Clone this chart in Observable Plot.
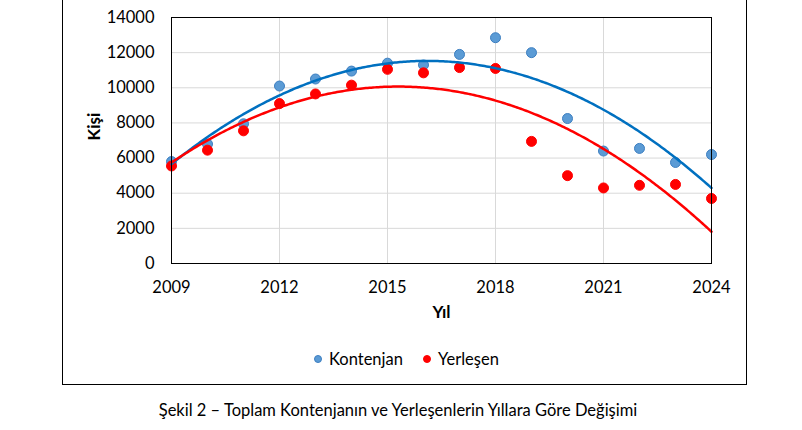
<!DOCTYPE html>
<html><head><meta charset="utf-8">
<script src="https://cdn.jsdelivr.net/npm/d3@7"></script>
<script src="https://cdn.jsdelivr.net/npm/@observablehq/plot@0.6"></script>
<style>
html,body{margin:0;padding:0;background:#fff;}
body{width:802px;height:430px;position:relative;overflow:hidden;font-family:Lato,"Open Sans",sans-serif;color:#000;}
#box{position:absolute;left:62px;top:-20px;width:685px;height:405px;border:1px solid #000;box-sizing:border-box;}
#chart{position:absolute;left:0;top:0;}
#legend{position:absolute;left:0;top:349px;width:802px;height:20px;font-size:16.5px;}
.item{position:absolute;top:0;height:20px;line-height:20px;white-space:nowrap;}
.sw{position:absolute;left:0;top:6px;width:8px;height:8px;border-radius:50%;box-sizing:border-box;}
.lbl{position:absolute;left:15px;top:0;}
#caption{position:absolute;left:0;top:400px;width:796px;text-align:center;font-size:16.5px;line-height:20px;}
</style>
</head>
<body>
<div id="box"></div>
<div id="chart"></div>
<div id="legend"></div>
<div id="caption"></div>
<script>
// ---- data ----
const years = [2009, 2010, 2011, 2012, 2013, 2014, 2015, 2016, 2017, 2018, 2019, 2020, 2021, 2022, 2023, 2024];
const kontenjan = [5800, 6800, 7950, 10100, 10500, 10950, 11400, 11300, 11900, 12850, 12000, 8250, 6400, 6550, 5750, 6200];
const yerlesen = [5550, 6450, 7550, 9100, 9650, 10150, 11050, 10850, 11150, 11100, 6950, 5000, 4300, 4450, 4500, 3700];
const seriesNames = ["Kontenjan", "Yerleşen"];
const xTicks = [2009, 2012, 2015, 2018, 2021, 2024];
const yTicks = [0, 2000, 4000, 6000, 8000, 10000, 12000, 14000];
const xTitle = "Yıl";
const yTitle = "Kişi";
const captionText = "Şekil 2 – Toplam Kontenjanın ve Yerleşenlerin Yıllara Göre Değişimi";

// ---- styles ----
const colors = {Kontenjan: {fill: "#5b9bd5", stroke: "#3d7fc1", line: "#0070c0"},
                Yerleşen: {fill: "#ff0000", stroke: "#ff0000", line: "#ff0000"}};

// quadratic least-squares fit (Excel polynomial trendline, order 2)
function quadFit(xs, ys) {
  const x0 = d3.mean(xs);
  const S = [[0,0,0],[0,0,0],[0,0,0]], T = [0,0,0];
  xs.forEach((x, i) => {
    const t = x - x0, p = [1, t, t*t];
    for (let j = 0; j < 3; j++) { T[j] += p[j]*ys[i]; for (let k = 0; k < 3; k++) S[j][k] += p[j]*p[k]; }
  });
  const A = S.map((r, i) => [...r, T[i]]);
  for (let c = 0; c < 3; c++) {
    for (let r = c + 1; r < 3; r++) {
      const f = A[r][c] / A[c][c];
      for (let k = c; k < 4; k++) A[r][k] -= f*A[c][k];
    }
  }
  const b = [0,0,0];
  for (let r = 2; r >= 0; r--) {
    let s = A[r][3];
    for (let k = r + 1; k < 3; k++) s -= A[r][k]*b[k];
    b[r] = s / A[r][r];
  }
  return x => { const t = x - x0; return b[0] + b[1]*t + b[2]*t*t; };
}

const valuesBy = {Kontenjan: kontenjan, Yerleşen: yerlesen};
const points = seriesNames.flatMap(s => years.map((y, i) => ({series: s, year: y, value: valuesBy[s][i]})));
const xs = d3.range(years[0], years[years.length-1] + 1e-9, 0.05);
const fits = seriesNames.flatMap(s => {
  const f = quadFit(years, valuesBy[s]);
  return xs.map(x => ({series: s, year: x, value: f(x)}));
});

const chart = Plot.plot({
  width: 802, height: 340,
  marginLeft: 171, marginRight: 91, marginTop: 17, marginBottom: 77,
  style: {fontFamily: "Lato, 'Open Sans', sans-serif", fontSize: "16.5px", color: "#000", background: "transparent", overflow: "visible"},
  x: {domain: [years[0], years[years.length-1]]},
  y: {domain: [yTicks[0], yTicks[yTicks.length-1]]},
  marks: [
    Plot.gridY(yTicks, {stroke: "#d9d9d9", strokeOpacity: 1, strokeWidth: 1}),
    Plot.gridX(xTicks, {stroke: "#d9d9d9", strokeOpacity: 1, strokeWidth: 1}),
    Plot.axisX(xTicks, {tickSize: 0, tickPadding: 18, tickFormat: d => String(d), label: null, fontSize: 16.5}),
    Plot.axisY(yTicks, {tickSize: 0, tickPadding: 17, tickFormat: d => String(d), label: null, fontSize: 16.5}),
    ...seriesNames.map(s => Plot.dot(points.filter(d => d.series === s), {
      x: "year", y: "value", r: 5, fill: colors[s].fill, stroke: colors[s].stroke, strokeWidth: 1
    })),
    ...seriesNames.map(s => Plot.line(fits.filter(d => d.series === s), {
      x: "year", y: "value", stroke: colors[s].line, strokeWidth: 2.5
    })),
    Plot.frame({stroke: "#000", strokeWidth: 1}),
    Plot.text([yTitle], {frameAnchor: "left", dx: -77, rotate: -90, fontWeight: "bold", fontSize: 17}),
    Plot.text([xTitle], {frameAnchor: "bottom", dy: 54, fontWeight: "bold", fontSize: 17})
  ]
});
document.getElementById("chart").appendChild(chart);

// legend
const legend = document.getElementById("legend");
const legendLeft = {Kontenjan: 314, Yerleşen: 423};
seriesNames.forEach(s => {
  const it = document.createElement("div");
  it.className = "item";
  it.style.left = legendLeft[s] + "px";
  const sw = document.createElement("span");
  sw.className = "sw";
  sw.style.background = colors[s].fill;
  sw.style.border = "1px solid " + colors[s].stroke;
  const lb = document.createElement("span");
  lb.className = "lbl";
  lb.textContent = s;
  it.appendChild(sw); it.appendChild(lb);
  legend.appendChild(it);
});
document.getElementById("caption").textContent = captionText;
</script>
</body></html>
